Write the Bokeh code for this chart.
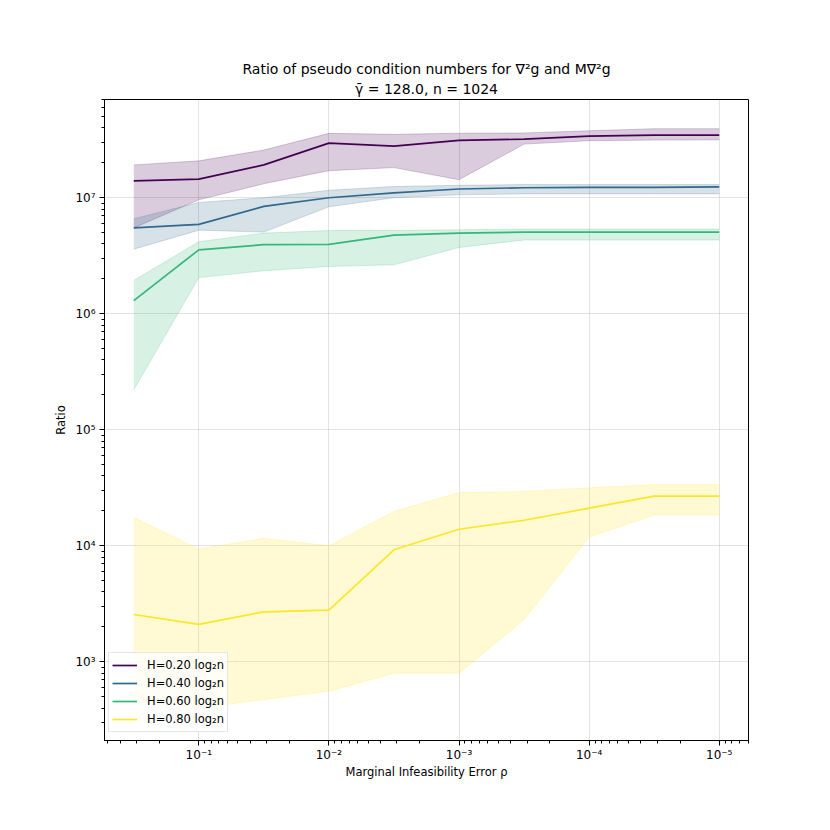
from bokeh.plotting import figure
from bokeh.models import (Range1d, LogTicker, CustomJSTickFormatter, Legend, LegendItem, Title)
from bokeh.embed import file_html
from bokeh.resources import INLINE

# ---- data ----
rho = [3.1623e-1, 1e-1, 3.1623e-2, 1e-2, 3.1623e-3, 1e-3, 3.1623e-4, 1e-4, 3.1623e-5, 1e-5]

labels = ["H=0.20 log₂n", "H=0.40 log₂n", "H=0.60 log₂n", "H=0.80 log₂n"]
colors = ["#440154", "#31688e", "#35b779", "#fde725"]

mid_020 = [1.40e7, 1.45e7, 1.92e7, 2.96e7, 2.79e7, 3.12e7, 3.20e7, 3.40e7, 3.47e7, 3.47e7]
up_020 = [1.92e7, 2.08e7, 2.58e7, 3.59e7, 3.52e7, 3.60e7, 3.62e7, 3.78e7, 3.94e7, 3.94e7]
lo_020 = [5.5e6, 9.6e6, 1.32e7, 1.71e7, 1.82e7, 1.43e7, 2.90e7, 3.10e7, 3.14e7, 3.16e7]

mid_040 = [5.5e6, 5.89e6, 8.42e6, 1.00e7, 1.10e7, 1.19e7, 1.22e7, 1.23e7, 1.23e7, 1.24e7]
up_040 = [6.6e6, 9.12e6, 1.00e7, 1.16e7, 1.25e7, 1.28e7, 1.30e7, 1.30e7, 1.30e7, 1.30e7]
lo_040 = [3.6e6, 5.26e6, 5.06e6, 8.36e6, 1.00e7, 1.06e7, 1.08e7, 1.08e7, 1.08e7, 1.08e7]

mid_060 = [1.30e6, 3.56e6, 3.94e6, 3.96e6, 4.77e6, 4.96e6, 5.06e6, 5.06e6, 5.06e6, 5.06e6]
up_060 = [1.94e6, 4.18e6, 4.96e6, 5.22e6, 5.22e6, 5.30e6, 5.37e6, 5.37e6, 5.37e6, 5.37e6]
lo_060 = [2.21e5, 2.05e6, 2.35e6, 2.56e6, 2.64e6, 3.73e6, 4.32e6, 4.32e6, 4.32e6, 4.32e6]

mid_080 = [2.56e3, 2.10e3, 2.70e3, 2.79e3, 9.24e3, 1.39e4, 1.66e4, 2.11e4, 2.68e4, 2.68e4]
up_080 = [1.76e4, 9.4e3, 1.16e4, 1.00e4, 1.98e4, 2.88e4, 2.94e4, 3.16e4, 3.38e4, 3.38e4]
lo_080 = [450, 400, 473, 559, 798, 798, 2.30e3, 1.19e4, 1.84e4, 1.84e4]

mids = [mid_020, mid_040, mid_060, mid_080]
ups = [up_020, up_040, up_060, up_080]
los = [lo_020, lo_040, lo_060, lo_080]

title1 = "Ratio of pseudo condition numbers for ∇²g and M∇²g"
title2 = "γ̄ = 128.0, n = 1024"
xlabel = "Marginal Infeasibility Error ρ"
ylabel = "Ratio"

FONT = "DejaVu Sans"

p = figure(width=814, height=814, x_axis_type="log", y_axis_type="log",
           x_range=Range1d(10 ** -0.275, 10 ** -5.225),
           y_range=Range1d(10 ** 2.322, 10 ** 7.847),
           output_backend="svg", toolbar_location=None,
           min_border_left=104, min_border_right=66, min_border_top=99, min_border_bottom=74)
p.title = None

p.add_layout(Title(text=title2, align="center", text_font=FONT, text_font_size="14px",
                   text_font_style="normal", text_color="black", standoff=5), "above")
p.add_layout(Title(text=title1, align="center", text_font=FONT, text_font_size="14px",
                   text_font_style="normal", text_color="black", standoff=0), "above")

items = []
for lab, c, m, u, l in zip(labels, colors, mids, ups, los):
    p.varea(x=rho, y1=l, y2=u, fill_color=c, fill_alpha=0.2)
    p.line(x=rho, y=u, line_color=c, line_alpha=0.2, line_width=1)
    p.line(x=rho, y=l, line_color=c, line_alpha=0.2, line_width=1)
    r = p.line(x=rho, y=m, line_color=c, line_width=1.7)
    items.append(LegendItem(label=lab, renderers=[r]))

fmt = CustomJSTickFormatter(code="""
const e = Math.round(Math.log10(tick));
const sup = {'-':'⁻','0':'⁰','1':'¹','2':'²','3':'³','4':'⁴','5':'⁵','6':'⁶','7':'⁷','8':'⁸','9':'⁹'};
return '10' + String(e).split('').map(c => sup[c]).join('');
""")

for ax in [p.xaxis[0], p.yaxis[0]]:
    ax.ticker = LogTicker(num_minor_ticks=10, desired_num_ticks=6)
    ax.formatter = fmt
    ax.major_label_text_font = FONT
    ax.major_label_text_font_size = "12px"
    ax.major_label_text_color = "black"
    ax.axis_label_text_font = FONT
    ax.axis_label_text_font_size = "11.5px"
    ax.axis_label_text_font_style = "normal"
    ax.axis_label_text_color = "black"
    ax.major_tick_in = 0
    ax.major_tick_out = 5
    ax.minor_tick_in = 0
    ax.minor_tick_out = 3
    ax.axis_line_color = "black"
    ax.major_tick_line_color = "black"
    ax.minor_tick_line_color = "black"

p.xaxis.major_label_standoff = 2
p.yaxis.major_label_standoff = 4
p.xaxis.axis_label = xlabel
p.yaxis.axis_label = ylabel
p.xaxis.axis_label_standoff = 0
p.yaxis.axis_label_standoff = 4

p.xgrid.ticker = p.xaxis[0].ticker
p.ygrid.ticker = p.yaxis[0].ticker
p.grid.grid_line_color = "#b0b0b0"
p.grid.grid_line_alpha = 0.35
p.grid.grid_line_width = 1

p.outline_line_color = "black"
p.outline_line_alpha = 1
p.outline_line_width = 1
p.background_fill_color = "white"
p.border_fill_color = "white"

legend = Legend(items=items, location=(4, 8), orientation="vertical")
legend.label_text_font = FONT
legend.label_text_font_size = "11.5px"
legend.label_text_color = "black"
legend.glyph_width = 25
legend.glyph_height = 18
legend.label_height = 18
legend.label_standoff = 10
legend.spacing = 0
legend.padding = 3
legend.margin = 0
legend.border_line_color = "#cccccc"
legend.border_line_width = 1
legend.background_fill_alpha = 0.8
p.add_layout(legend, "center")

open("out.html", "w").write(file_html(p, INLINE))
